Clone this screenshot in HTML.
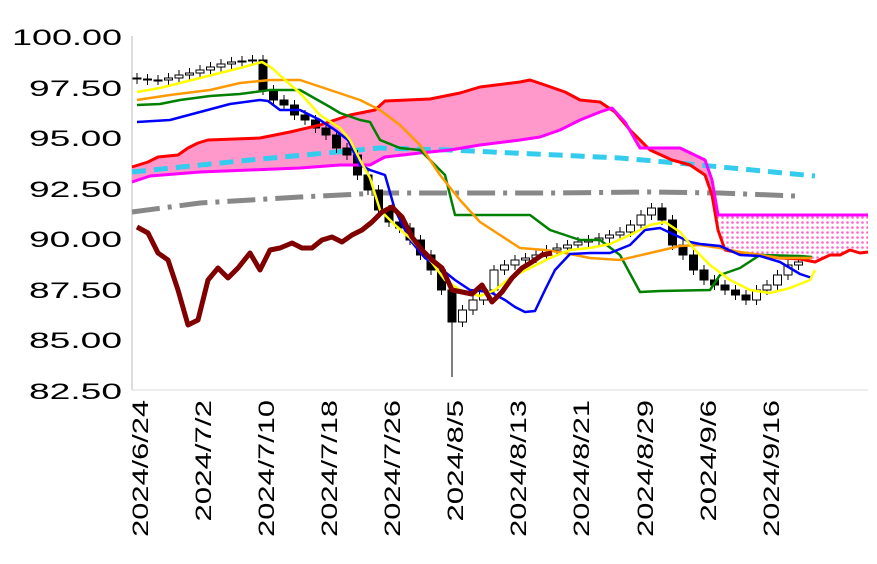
<!DOCTYPE html>
<html><head><meta charset="utf-8"><style>
html,body{margin:0;padding:0;background:#fff;}
svg{display:block;font-family:"Liberation Sans",sans-serif;}
</style></head><body>
<svg id="s" width="877" height="564" viewBox="0 0 877 564">
<defs>
<pattern id="dots" width="5" height="5" patternUnits="userSpaceOnUse">
<rect width="5" height="5" fill="#fff"/><circle cx="2.5" cy="2.5" r="1.3" fill="#ff66cc"/></pattern>
<clipPath id="left"><rect x="0" y="0" width="716" height="564"/></clipPath>
<clipPath id="right"><rect x="716" y="0" width="200" height="564"/></clipPath>
</defs>
<g font-size="22" fill="#000" text-anchor="end" lengthAdjust="spacingAndGlyphs">
<text x="122" y="45" textLength="110" lengthAdjust="spacingAndGlyphs">100.00</text>
<text x="122" y="96" textLength="93" lengthAdjust="spacingAndGlyphs">97.50</text>
<text x="122" y="146" textLength="93" lengthAdjust="spacingAndGlyphs">95.00</text>
<text x="122" y="197" textLength="93" lengthAdjust="spacingAndGlyphs">92.50</text>
<text x="122" y="247" textLength="93" lengthAdjust="spacingAndGlyphs">90.00</text>
<text x="122" y="298" textLength="93" lengthAdjust="spacingAndGlyphs">87.50</text>
<text x="122" y="348" textLength="93" lengthAdjust="spacingAndGlyphs">85.00</text>
<text x="122" y="399" textLength="93" lengthAdjust="spacingAndGlyphs">82.50</text>
</g>
<line x1="132" y1="36" x2="132" y2="390" stroke="#bbb" stroke-width="1"/>
<line x1="132" y1="390" x2="868" y2="390" stroke="#ddd" stroke-width="1"/>
<g font-size="22" fill="#000" text-anchor="end" id="xl"></g>
<g id="cloud"></g>
<g id="lines"></g>
</svg>
<script>
const NS="http://www.w3.org/2000/svg",s=document.getElementById('s');
function el(t,a,p){const e=document.createElementNS(NS,t);for(const k in a)e.setAttribute(k,a[k]);(p||s).appendChild(e);return e;}
function P(a){return a.map(p=>p.join(',')).join(' ');}
const labs=[["2024/6/24",140],["2024/7/2",203],["2024/7/10",266],["2024/7/18",329],["2024/7/26",392],["2024/8/5",455],["2024/8/13",518],["2024/8/21",581],["2024/8/29",645],["2024/9/6",708],["2024/9/16",771]];
const xl=document.getElementById('xl');
labs.forEach(([t,x])=>{const len=t.length*15.2;const e=el('text',{x:x+8,y:400,textLength:len,lengthAdjust:'spacingAndGlyphs',transform:`rotate(-90 ${x+8} 400)`},xl);e.textContent=t;});
const red=[[132,167],[148,162],[158,157],[178,155],[188,148],[198,143],[208,140],[260,138],[290,132],[320,125],[350,115],[375,110],[385,101],[430,99],[460,93],[480,87],[520,82],[530,80],[545,85],[565,92],[580,100],[600,102],[615,112],[630,130],[650,150],[672,160],[690,165],[705,175],[712,195],[718,230],[725,250],[740,253],[760,255],[780,258],[800,259],[815,262],[830,255],[840,255],[850,250],[860,253],[868,252]];
const mag=[[132,182],[150,176],[200,172],[250,170],[300,168],[340,165],[370,165],[385,157],[420,153],[450,150],[480,145],[520,140],[540,137],[560,130],[580,120],[600,112],[612,108],[625,122],[640,148],[680,148],[705,160],[712,180],[718,215],[868,215]];
const cl=document.getElementById('cloud');
const poly=P(red)+' '+P(mag.slice().reverse());
el('polygon',{points:poly,fill:'#ff99cc','clip-path':'url(#left)'},cl);
el('polygon',{points:poly,fill:'url(#dots)','clip-path':'url(#right)'},cl);
el('polyline',{points:P([[132,172],[250,160],[380,148],[450,150],[620,158],[700,165],[815,176]]),fill:'none',stroke:'#33ccee','stroke-width':5,'stroke-dasharray':'14,8'});
el('polyline',{points:P([[132,212],[200,203],[300,197],[380,193],[450,193],[550,193],[650,192],[720,193],[795,196]]),fill:'none',stroke:'#888','stroke-width':5,'stroke-dasharray':'28,8,4,8'});
const c=[79,80,80,78,75,73,70,67,64,62,61,60,90,100,105,115,120,128,135,148,155,175,190,210,222,228,240,255,270,290,322,310,300,290,270,265,260,258,255,250,248,245,242,240,238,235,232,225,215,208,220,245,255,270,280,285,290,295,300,290,285,275,265,262];
let prev=78;
c.forEach((v,i)=>{const x=137+i*10.5;const top=Math.min(prev,v),bot=Math.max(prev,v);const lo=i==30?377:bot+5;
el('line',{x1:x,y1:top-5,x2:x,y2:lo,stroke:'#000','stroke-width':1});
el('rect',{x:x-4,y:top,width:8,height:Math.max(bot-top,1),fill:v>prev?'#000':'#fff',stroke:'#000','stroke-width':1});prev=v;});
function L(pts,col,w){el('polyline',{points:P(pts),fill:'none',stroke:col,'stroke-width':w,'stroke-linejoin':'round'});}
L(red,'#ff0000',3);L(mag,'#ff00ff',3);
L([[137,105],[160,104],[180,100],[210,96],[240,94],[270,90],[300,90],[330,107],[340,113],[360,120],[370,122],[380,140],[400,148],[420,150],[445,175],[455,215],[480,215],[530,215],[550,230],[580,240],[600,240],[620,255],[640,292],[660,291],[710,290],[720,275],[740,268],[760,255],[800,256],[812,257]],'#008000',2.5);
L([[137,100],[170,95],[210,90],[240,83],[270,80],[300,80],[330,90],[360,100],[380,110],[400,125],[420,145],[440,175],[460,200],[480,222],[500,235],[520,248],[545,250],[565,253],[590,258],[620,260],[650,253],[680,246],[700,245],[720,248],[740,252],[760,255],[780,258],[812,258]],'#ff9900',2.5);
L([[137,122],[170,120],[200,112],[230,104],[260,100],[268,101],[280,110],[300,110],[320,120],[335,130],[348,140],[360,165],[370,170],[385,175],[395,210],[410,240],[425,258],[440,268],[455,280],[470,290],[490,292],[505,300],[515,307],[525,312],[535,311],[545,290],[555,270],[570,254],[590,253],[610,253],[630,245],[645,230],[660,228],[675,235],[690,242],[700,244],[720,246],[740,255],[760,256],[780,262],[800,274],[812,278]],'#0000ff',2.5);
L([[137,92],[160,88],[200,78],[240,68],[262,62],[272,68],[285,80],[300,93],[320,115],[340,128],[350,140],[360,160],[370,178],[380,210],[395,225],[410,238],[430,260],[445,280],[460,290],[480,296],[495,290],[510,278],[530,268],[550,258],[570,250],[590,248],[610,244],[630,235],[650,225],[665,222],[680,232],[695,250],[710,265],[730,280],[750,290],[770,293],[790,288],[810,280],[815,270]],'#ffff00',2.5);
L([[137,227],[148,233],[158,253],[168,260],[178,290],[188,325],[198,320],[208,280],[218,268],[228,278],[238,268],[250,253],[260,270],[270,250],[280,248],[292,243],[302,248],[312,248],[322,240],[332,237],[342,242],[352,235],[362,230],[372,222],[382,212],[392,207],[402,217],[412,237],[422,250],[432,260],[442,268],[452,290],[462,292],[472,294],[482,285],[492,302],[502,292],[512,278],[522,268],[532,262],[542,255],[552,253]],'#800000',5);
</script>
</body></html>
